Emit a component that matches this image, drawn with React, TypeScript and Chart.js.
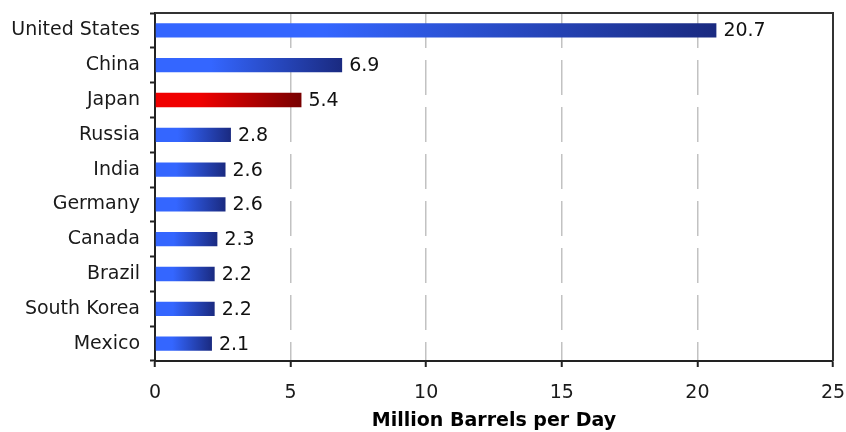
import React, { useEffect, useRef } from "react";
import { Chart, registerables } from "chart.js";

Chart.register(...registerables);

const countries = [
  "United States",
  "China",
  "Japan",
  "Russia",
  "India",
  "Germany",
  "Canada",
  "Brazil",
  "South Korea",
  "Mexico",
];
const consumption = [20.7, 6.9, 5.4, 2.8, 2.6, 2.6, 2.3, 2.2, 2.2, 2.1];
const highlightIndex = 2;
const xTicks = [0, 5, 10, 15, 20, 25];
const axisTitle = "Million Barrels per Day";

const FONT = "'DejaVu Sans', Verdana, sans-serif";

const zeroPadding = (s: any) => {
  s.paddingLeft = 0;
  s.paddingRight = 0;
  s.paddingTop = 0;
  s.paddingBottom = 0;
};

export default function App() {
  const ref = useRef<HTMLCanvasElement | null>(null);

  useEffect(() => {
    const canvas = ref.current;
    if (!canvas) return;

    const frame = {
      id: "frame",
      afterDraw(chart: any) {
        const { ctx, chartArea } = chart;
        ctx.save();
        ctx.strokeStyle = "#333";
        ctx.lineWidth = 2;
        ctx.beginPath();
        ctx.moveTo(chartArea.left, chartArea.top);
        ctx.lineTo(chartArea.right, chartArea.top);
        ctx.lineTo(chartArea.right, chartArea.bottom);
        ctx.stroke();
        ctx.restore();
      },
    };

    const valueLabels = {
      id: "valueLabels",
      afterDatasetsDraw(chart: any) {
        const { ctx } = chart;
        const meta = chart.getDatasetMeta(0);
        ctx.save();
        ctx.font = `19px ${FONT}`;
        ctx.fillStyle = "#111";
        ctx.textAlign = "left";
        ctx.textBaseline = "middle";
        meta.data.forEach((bar: any, i: number) => {
          ctx.fillText(consumption[i].toFixed(1), bar.x + 7, bar.y + 1);
        });
        ctx.restore();
      },
    };

    const gradientFor = (c: any) => {
      const chart = c.chart;
      const hi = c.dataIndex === highlightIndex;
      const start = hi ? "#f00000" : "#3466ff";
      const end = hi ? "#780000" : "#1a2a80";
      const x = chart.scales && chart.scales.x;
      if (!x || c.raw == null) return start;
      const x0 = x.getPixelForValue(0);
      const x1 = x.getPixelForValue(c.raw);
      if (!isFinite(x0) || !isFinite(x1) || x1 <= x0) return start;
      const g = chart.ctx.createLinearGradient(x0, 0, x1, 0);
      g.addColorStop(0, start);
      g.addColorStop(0.3, start);
      g.addColorStop(1, end);
      return g;
    };

    const chart = new Chart(canvas, {
      type: "bar",
      data: {
        labels: countries,
        datasets: [
          {
            data: consumption,
            backgroundColor: gradientFor as any,
            borderWidth: 0,
            categoryPercentage: 1,
            barPercentage: 0.41,
          },
        ],
      },
      options: {
        indexAxis: "y",
        animation: false,
        responsive: true,
        maintainAspectRatio: false,
        layout: { padding: { top: 13, right: 13, left: 0, bottom: 0 } },
        plugins: {
          legend: { display: false },
          tooltip: { enabled: false },
        },
        scales: {
          y: {
            type: "category",
            afterFit: (s: any) => {
              s.width = 155;
              zeroPadding(s);
            },
            grid: {
              offset: true,
              drawOnChartArea: false,
              drawTicks: true,
              tickLength: 5,
              tickColor: "#222",
              tickWidth: 2,
            } as any,
            border: { color: "#222", width: 2 },
            ticks: {
              font: { family: FONT, size: 19 },
              color: "#1a1a1a",
              padding: 10,
            },
          },
          x: {
            type: "linear",
            min: 0,
            max: 25,
            afterFit: (s: any) => {
              s.height = 71;
              zeroPadding(s);
            },
            afterBuildTicks: (s: any) => {
              s.ticks = xTicks.map((v) => ({ value: v }));
            },
            grid: {
              color: (c: any) =>
                c.tick && (c.tick.value === 0 || c.tick.value === 25)
                  ? "rgba(0,0,0,0)"
                  : "#c2c2c2",
              lineWidth: 1.5,
              tickColor: "#222",
              tickWidth: 2,
              tickLength: 6,
            } as any,
            border: { color: "#222", width: 2, dash: [35, 12] },
            ticks: {
              font: { family: FONT, size: 19 },
              color: "#1a1a1a",
              padding: 15,
              maxRotation: 0,
            },
            title: {
              display: true,
              text: axisTitle,
              font: { family: FONT, size: 19, weight: "bold", lineHeight: 1.2 },
              color: "#000",
              padding: { top: 0, bottom: 0 },
            },
          },
        },
      },
      plugins: [frame, valueLabels],
    });

    return () => chart.destroy();
  }, []);

  return (
    <div
      style={{
        position: "absolute",
        left: 0,
        top: 0,
        width: 846,
        height: 432,
        background: "#fff",
      }}
    >
      <canvas ref={ref} />
    </div>
  );
}
